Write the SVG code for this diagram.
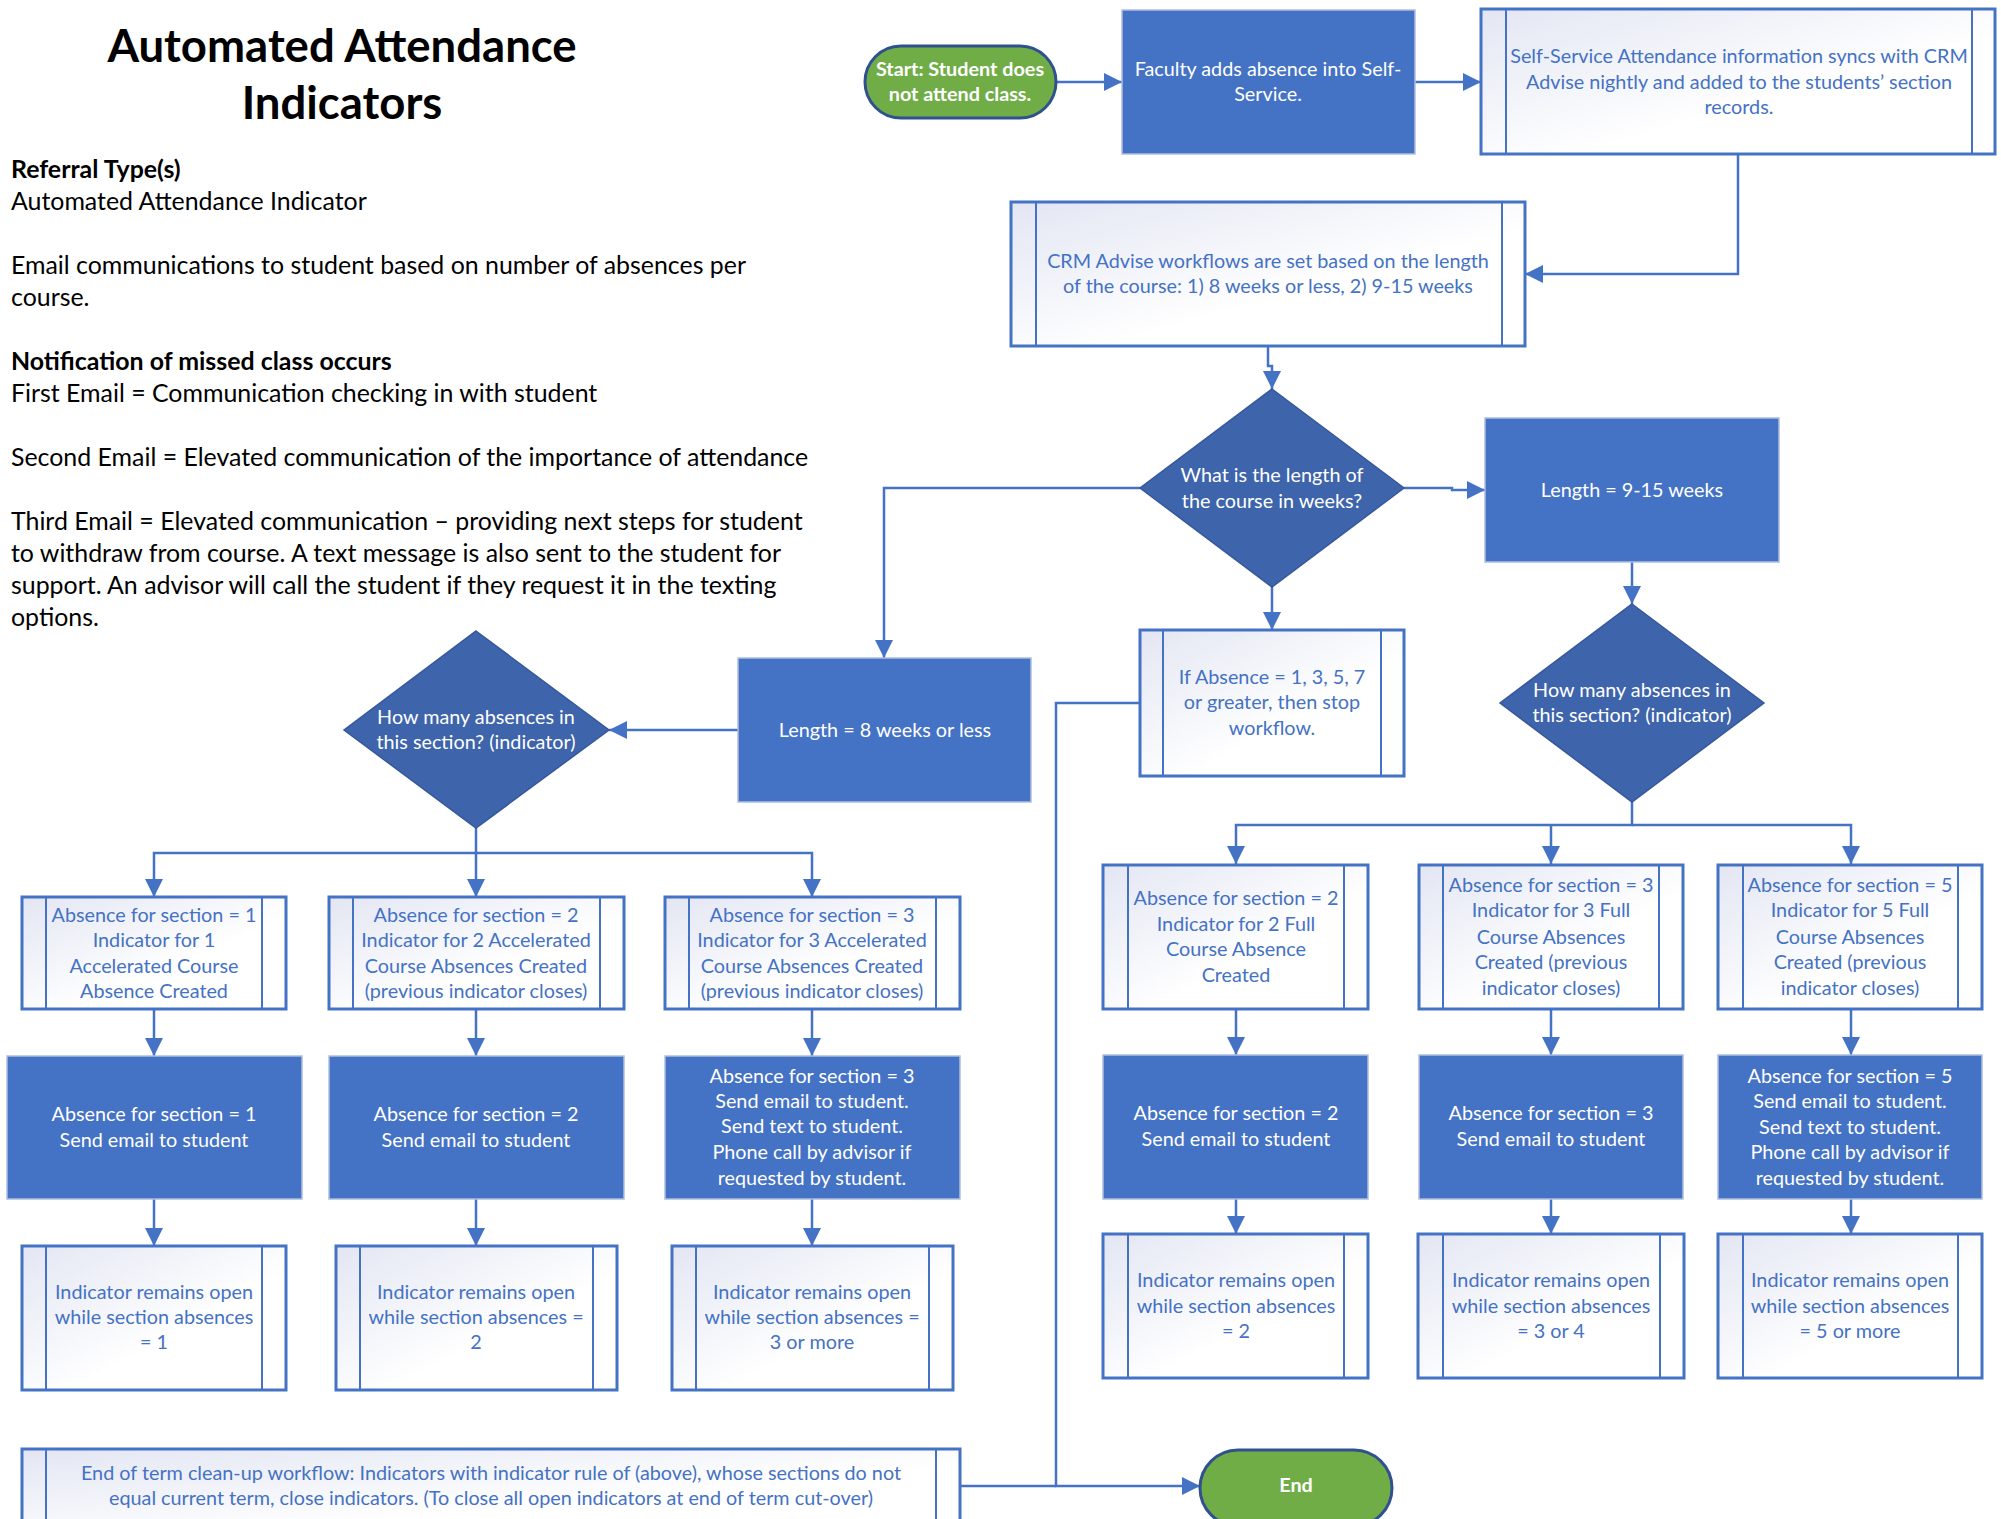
<svg xmlns="http://www.w3.org/2000/svg" width="2001" height="1519" viewBox="0 0 2001 1519">
<defs>
<linearGradient id="sub" x1="0" y1="0" x2="1" y2="1">
<stop offset="0" stop-color="#E3E6F3"/>
<stop offset="0.6" stop-color="#FFFFFF"/>
</linearGradient>
<marker id="ah" markerUnits="userSpaceOnUse" markerWidth="18" markerHeight="18" viewBox="0 0 18 18" refX="18" refY="9" orient="auto">
<path d="M0,0 L18,9 L0,18 z" fill="#4472C4"/>
</marker>
<style>
.title{font-family:Lato,"Liberation Sans",sans-serif;font-weight:bold;font-size:45.5px;fill:#000;text-anchor:middle;}
.body{font-family:Lato,"Liberation Sans",sans-serif;font-size:24.9px;fill:#000;}
.bold{font-weight:bold;}
.proc rect{fill:#4472C4;stroke:#AFBEDF;stroke-width:1.5;}
.proc text{font-family:Lato,"Liberation Sans",sans-serif;font-size:19.8px;fill:#FFFFFF;text-anchor:middle;}
.sub rect{fill:url(#sub);stroke:#4472C4;stroke-width:3;}
.sub line{stroke:#4472C4;stroke-width:2;}
.sub text{font-family:Lato,"Liberation Sans",sans-serif;font-size:19.8px;fill:#4472C4;text-anchor:middle;}
.dec polygon{fill:#3E64AC;stroke:#35589A;stroke-width:1.5;}
.dec text{font-family:Lato,"Liberation Sans",sans-serif;font-size:19.8px;fill:#FFFFFF;text-anchor:middle;}
.term rect{fill:#70AD47;stroke:#2F528F;stroke-width:3;}
.term text{font-family:Lato,"Liberation Sans",sans-serif;font-size:19.8px;font-weight:bold;fill:#FFFFFF;text-anchor:middle;}
.proc text,.sub text,.dec text,.term text{transform:translateY(-1px);}
.conn path{fill:none;stroke:#4472C4;stroke-width:2.5;}
.conn path.a{marker-end:url(#ah);}
</style>
</defs>
<rect x="0" y="0" width="2001" height="1519" fill="#FFFFFF"/>

<g id="intro">
<text class="title" x="342" y="62">Automated Attendance</text>
<text class="title" x="342" y="119">Indicators</text>
<text class="body bold" x="11" y="178">Referral Type(s)</text>
<text class="body" x="11" y="210">Automated Attendance Indicator</text>
<text class="body" x="11" y="274">Email communications to student based on number of absences per</text>
<text class="body" x="11" y="306">course.</text>
<text class="body bold" x="11" y="370">Notification of missed class occurs</text>
<text class="body" x="11" y="402">First Email = Communication checking in with student</text>
<text class="body" x="11" y="466">Second Email = Elevated communication of the importance of attendance</text>
<text class="body" x="11" y="530">Third Email = Elevated communication – providing next steps for student</text>
<text class="body" x="11" y="562">to withdraw from course. A text message is also sent to the student for</text>
<text class="body" x="11" y="594">support. An advisor will call the student if they request it in the texting</text>
<text class="body" x="11" y="626">options.</text>
</g>

<g class="conn" id="connectors">
<path class="a" d="M1056 82 H1122"/>
<path class="a" d="M1415 82 H1481"/>
<path class="a" d="M1738 154 V274 H1525"/>
<path class="a" d="M1268 346 V366 H1272 V389"/>
<path class="a" d="M1140 488 H884 V658"/>
<path class="a" d="M1404 488 H1452 V490 H1485"/>
<path class="a" d="M1272 587 V630"/>
<path class="a" d="M1632 562 V604"/>
<path class="a" d="M1632 802 V825 H1236 V864"/>
<path class="a" d="M1632 825 H1851 V864"/>
<path class="a" d="M1551 825 V864"/>
<path class="a" d="M1236 1009 V1055"/>
<path class="a" d="M1551 1009 V1055"/>
<path class="a" d="M1851 1009 V1055"/>
<path class="a" d="M1236 1199 V1234"/>
<path class="a" d="M1551 1199 V1234"/>
<path class="a" d="M1851 1199 V1234"/>
<path class="a" d="M738 730 H609"/>
<path class="a" d="M476 828 V853 H154 V897"/>
<path class="a" d="M476 853 H812 V897"/>
<path class="a" d="M476 853 V897"/>
<path class="a" d="M154 1009 V1056"/>
<path class="a" d="M476 1009 V1056"/>
<path class="a" d="M812 1009 V1056"/>
<path class="a" d="M154 1199 V1246"/>
<path class="a" d="M476 1199 V1246"/>
<path class="a" d="M812 1199 V1246"/>
<path class="a" d="M1140 703 H1056 V1486 H1200"/>
<path d="M960 1486 H1056"/>
</g>

<g id="start" class="term">
<rect x="865" y="46" width="191" height="72" rx="36" ry="36"/>
<text x="960" y="77">Start: Student does</text>
<text x="960" y="102">not attend class.</text>
</g>

<g id="faculty" class="proc">
<rect x="1122" y="10" width="293" height="144"/>
<text x="1268" y="77">Faculty adds absence into Self-</text>
<text x="1268" y="102">Service.</text>
</g>

<g id="selfservice" class="sub">
<rect x="1481" y="9" width="514" height="145"/>
<line x1="1506" y1="9" x2="1506" y2="154"/>
<line x1="1972" y1="9" x2="1972" y2="154"/>
<text x="1739" y="64">Self-Service Attendance information syncs with CRM</text>
<text x="1739" y="90">Advise nightly and added to the students’ section</text>
<text x="1739" y="115">records.</text>
</g>

<g id="crm" class="sub">
<rect x="1011" y="202" width="514" height="144"/>
<line x1="1036" y1="202" x2="1036" y2="346"/>
<line x1="1502" y1="202" x2="1502" y2="346"/>
<text x="1268" y="269">CRM Advise workflows are set based on the length</text>
<text x="1268" y="294">of the course: 1) 8 weeks or less, 2) 9-15 weeks</text>
</g>

<g id="lengthDecision" class="dec">
<polygon points="1272,389 1404,488 1272,587 1140,488"/>
<text x="1272" y="483">What is the length of</text>
<text x="1272" y="509">the course in weeks?</text>
</g>

<g id="len915" class="proc">
<rect x="1485" y="418" width="294" height="144"/>
<text x="1632" y="498">Length = 9-15 weeks</text>
</g>

<g id="stopIf" class="sub">
<rect x="1140" y="630" width="264" height="146"/>
<line x1="1163" y1="630" x2="1163" y2="776"/>
<line x1="1381" y1="630" x2="1381" y2="776"/>
<text x="1272" y="685">If Absence = 1, 3, 5, 7</text>
<text x="1272" y="710">or greater, then stop</text>
<text x="1272" y="736">workflow.</text>
</g>

<g id="absDecisionFull" class="dec">
<polygon points="1632,604 1764,703 1632,802 1500,703"/>
<text x="1632" y="698">How many absences in</text>
<text x="1632" y="723">this section? (indicator)</text>
</g>

<g id="len8" class="proc">
<rect x="738" y="658" width="293" height="144"/>
<text x="885" y="738">Length = 8 weeks or less</text>
</g>

<g id="absDecisionAcc" class="dec">
<polygon points="476,631 609,730 476,828 344,730"/>
<text x="476" y="725">How many absences in</text>
<text x="476" y="750">this section? (indicator)</text>
</g>

<g id="acc1Indicator" class="sub">
<rect x="22" y="897" width="264" height="112"/>
<line x1="46" y1="897" x2="46" y2="1009"/>
<line x1="262" y1="897" x2="262" y2="1009"/>
<text x="154" y="923">Absence for section = 1</text>
<text x="154" y="948">Indicator for 1</text>
<text x="154" y="974">Accelerated Course</text>
<text x="154" y="999">Absence Created</text>
</g>
<g id="acc2Indicator" class="sub">
<rect x="329" y="897" width="295" height="112"/>
<line x1="353" y1="897" x2="353" y2="1009"/>
<line x1="600" y1="897" x2="600" y2="1009"/>
<text x="476" y="923">Absence for section = 2</text>
<text x="476" y="948">Indicator for 2 Accelerated</text>
<text x="476" y="974">Course Absences Created</text>
<text x="476" y="999">(previous indicator closes)</text>
</g>
<g id="acc3Indicator" class="sub">
<rect x="665" y="897" width="295" height="112"/>
<line x1="689" y1="897" x2="689" y2="1009"/>
<line x1="936" y1="897" x2="936" y2="1009"/>
<text x="812" y="923">Absence for section = 3</text>
<text x="812" y="948">Indicator for 3 Accelerated</text>
<text x="812" y="974">Course Absences Created</text>
<text x="812" y="999">(previous indicator closes)</text>
</g>

<g id="acc1Email" class="proc">
<rect x="7" y="1056" width="295" height="143"/>
<text x="154" y="1122">Absence for section = 1</text>
<text x="154" y="1148">Send email to student</text>
</g>
<g id="acc2Email" class="proc">
<rect x="329" y="1056" width="295" height="143"/>
<text x="476" y="1122">Absence for section = 2</text>
<text x="476" y="1148">Send email to student</text>
</g>
<g id="acc3Email" class="proc">
<rect x="665" y="1056" width="295" height="143"/>
<text x="812" y="1084">Absence for section = 3</text>
<text x="812" y="1109">Send email to student.</text>
<text x="812" y="1134">Send text to student.</text>
<text x="812" y="1160">Phone call by advisor if</text>
<text x="812" y="1186">requested by student.</text>
</g>

<g id="acc1Open" class="sub">
<rect x="22" y="1246" width="264" height="144"/>
<line x1="46" y1="1246" x2="46" y2="1390"/>
<line x1="262" y1="1246" x2="262" y2="1390"/>
<text x="154" y="1300">Indicator remains open</text>
<text x="154" y="1325">while section absences</text>
<text x="154" y="1350">= 1</text>
</g>
<g id="acc2Open" class="sub">
<rect x="336" y="1246" width="281" height="144"/>
<line x1="360" y1="1246" x2="360" y2="1390"/>
<line x1="593" y1="1246" x2="593" y2="1390"/>
<text x="476" y="1300">Indicator remains open</text>
<text x="476" y="1325">while section absences =</text>
<text x="476" y="1350">2</text>
</g>
<g id="acc3Open" class="sub">
<rect x="672" y="1246" width="281" height="144"/>
<line x1="696" y1="1246" x2="696" y2="1390"/>
<line x1="929" y1="1246" x2="929" y2="1390"/>
<text x="812" y="1300">Indicator remains open</text>
<text x="812" y="1325">while section absences =</text>
<text x="812" y="1350">3 or more</text>
</g>

<g id="full2Indicator" class="sub">
<rect x="1103" y="865" width="265" height="144"/>
<line x1="1128" y1="865" x2="1128" y2="1009"/>
<line x1="1344" y1="865" x2="1344" y2="1009"/>
<text x="1236" y="906">Absence for section = 2</text>
<text x="1236" y="932">Indicator for 2 Full</text>
<text x="1236" y="957">Course Absence</text>
<text x="1236" y="983">Created</text>
</g>
<g id="full3Indicator" class="sub">
<rect x="1419" y="865" width="264" height="144"/>
<line x1="1443" y1="865" x2="1443" y2="1009"/>
<line x1="1659" y1="865" x2="1659" y2="1009"/>
<text x="1551" y="893">Absence for section = 3</text>
<text x="1551" y="918">Indicator for 3 Full</text>
<text x="1551" y="945">Course Absences</text>
<text x="1551" y="970">Created (previous</text>
<text x="1551" y="996">indicator closes)</text>
</g>
<g id="full5Indicator" class="sub">
<rect x="1718" y="865" width="264" height="144"/>
<line x1="1743" y1="865" x2="1743" y2="1009"/>
<line x1="1958" y1="865" x2="1958" y2="1009"/>
<text x="1850" y="893">Absence for section = 5</text>
<text x="1850" y="918">Indicator for 5 Full</text>
<text x="1850" y="945">Course Absences</text>
<text x="1850" y="970">Created (previous</text>
<text x="1850" y="996">indicator closes)</text>
</g>

<g id="full2Email" class="proc">
<rect x="1103" y="1055" width="265" height="144"/>
<text x="1236" y="1121">Absence for section = 2</text>
<text x="1236" y="1147">Send email to student</text>
</g>
<g id="full3Email" class="proc">
<rect x="1419" y="1055" width="264" height="144"/>
<text x="1551" y="1121">Absence for section = 3</text>
<text x="1551" y="1147">Send email to student</text>
</g>
<g id="full5Email" class="proc">
<rect x="1718" y="1055" width="264" height="144"/>
<text x="1850" y="1084">Absence for section = 5</text>
<text x="1850" y="1109">Send email to student.</text>
<text x="1850" y="1135">Send text to student.</text>
<text x="1850" y="1160">Phone call by advisor if</text>
<text x="1850" y="1186">requested by student.</text>
</g>

<g id="full2Open" class="sub">
<rect x="1103" y="1234" width="265" height="144"/>
<line x1="1128" y1="1234" x2="1128" y2="1378"/>
<line x1="1344" y1="1234" x2="1344" y2="1378"/>
<text x="1236" y="1288">Indicator remains open</text>
<text x="1236" y="1314">while section absences</text>
<text x="1236" y="1339">= 2</text>
</g>
<g id="full3Open" class="sub">
<rect x="1418" y="1234" width="266" height="144"/>
<line x1="1443" y1="1234" x2="1443" y2="1378"/>
<line x1="1660" y1="1234" x2="1660" y2="1378"/>
<text x="1551" y="1288">Indicator remains open</text>
<text x="1551" y="1314">while section absences</text>
<text x="1551" y="1339">= 3 or 4</text>
</g>
<g id="full5Open" class="sub">
<rect x="1718" y="1234" width="264" height="144"/>
<line x1="1743" y1="1234" x2="1743" y2="1378"/>
<line x1="1958" y1="1234" x2="1958" y2="1378"/>
<text x="1850" y="1288">Indicator remains open</text>
<text x="1850" y="1314">while section absences</text>
<text x="1850" y="1339">= 5 or more</text>
</g>

<g id="endOfTerm" class="sub">
<rect x="22" y="1449" width="938" height="90"/>
<line x1="46" y1="1449" x2="46" y2="1539"/>
<line x1="936" y1="1449" x2="936" y2="1539"/>
<text x="491" y="1481">End of term clean-up workflow: Indicators with indicator rule of (above), whose sections do not</text>
<text x="491" y="1506">equal current term, close indicators. (To close all open indicators at end of term cut-over)</text>
</g>

<g id="end" class="term">
<rect x="1200" y="1450" width="192" height="76" rx="38" ry="38"/>
<text x="1296" y="1493">End</text>
</g>
</svg>
